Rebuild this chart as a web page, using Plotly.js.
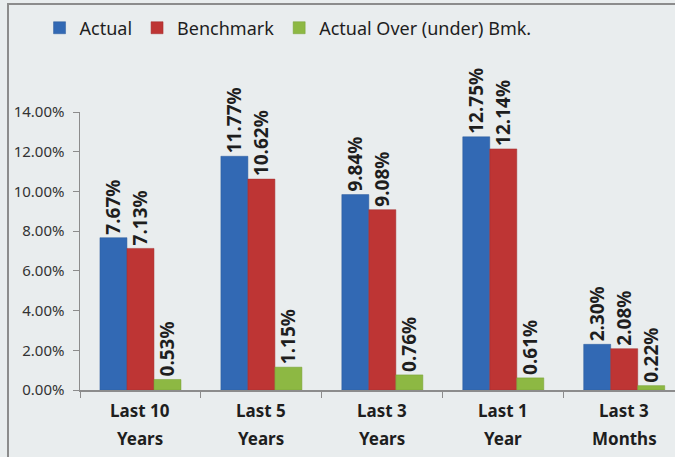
<!DOCTYPE html>
<html>
<head>
<meta charset="utf-8">
<script src="https://cdn.plot.ly/plotly-3.0.1.min.js"></script>
<style>
html,body{margin:0;padding:0;background:#E9EDEE;overflow:hidden;}
#wrap{position:relative;width:675px;height:457px;}
#chart{position:absolute;left:0;top:0;width:675px;height:457px;}
#frame{position:absolute;left:7px;top:3px;width:680px;height:470px;border-top:2px solid #8C8C8C;border-left:2px solid #8C8C8C;pointer-events:none;}
</style>
</head>
<body>
<div id="wrap"><div id="chart"></div><div id="frame"></div></div>
<script>
var categories = ["Last 10 Years", "Last 5 Years", "Last 3 Years", "Last 1 Year", "Last 3 Months"];
var catLine1 = ["Last 10", "Last 5", "Last 3", "Last 1", "Last 3"];
var catLine2 = ["Years", "Years", "Years", "Year", "Months"];
var actual = [7.67, 11.77, 9.84, 12.75, 2.30];
var benchmark = [7.13, 10.62, 9.08, 12.14, 2.08];
var overUnder = [0.53, 1.15, 0.76, 0.61, 0.22];
var seriesNames = ["Actual", "Benchmark", "Actual Over (under) Bmk."];
var yTicks = [0, 2, 4, 6, 8, 10, 12, 14];

var colors = ["#3269B4", "#BE3534", "#8DB843"];
var lineColors = ["#2C5C9C", "#A22D2C", "#76A035"];
var series = [actual, benchmark, overUnder];

var traces = series.map(function(vals, i){
  return {
    type: 'bar',
    name: seriesNames[i],
    x: categories,
    y: vals,
    marker: {color: colors[i], line: {color: lineColors[i], width: 0.5}},
    text: vals.map(function(v){return v.toFixed(2) + '%';}),
    textposition: 'outside',
    textangle: -90,
    constraintext: 'none',
    cliponaxis: false,
    textfont: {family: 'Noto Sans, sans-serif', size: 19, color: '#1E1E1E', weight: 'bold'},
    hoverinfo: 'skip'
  };
});

var annotations = [];
categories.forEach(function(c, i){
  annotations.push({x: c, xref: 'x', y: -0.075, yref: 'paper', yanchor: 'middle', text: catLine1[i], showarrow: false,
    font: {family: 'Noto Sans, sans-serif', size: 17, color: '#1E1E1E', weight: 'bold'}});
  annotations.push({x: c, xref: 'x', y: -0.176, yref: 'paper', yanchor: 'middle', text: catLine2[i], showarrow: false,
    font: {family: 'Noto Sans, sans-serif', size: 17, color: '#1E1E1E', weight: 'bold'}});
});

var layout = {
  width: 675, height: 457,
  paper_bgcolor: '#E9EDEE', plot_bgcolor: 'rgba(0,0,0,0)',
  margin: {l: 80, r: 0, t: 112, b: 67, autoexpand: false},
  barmode: 'group', bargap: 0.33, bargroupgap: 0,
  showlegend: true,
  legend: {orientation: 'h', x: -0.068, xanchor: 'left', y: 1.302, yanchor: 'middle',
           font: {family: 'Noto Sans, sans-serif', size: 18, color: '#1E1E1E'},
           bgcolor: 'rgba(0,0,0,0)', traceorder: 'normal'},
  xaxis: {range: [-0.5, 4.42], showline: true, linecolor: '#8C8C8C', linewidth: 1.5,
          ticks: 'outside', ticklen: 6, tickcolor: '#8C8C8C', tickson: 'boundaries',
          showticklabels: false,
          showgrid: false, zeroline: false, fixedrange: true},
  yaxis: {range: [0, 14], tickvals: yTicks, ticktext: yTicks.map(function(v){return v.toFixed(2)+'%';}),
          showline: true, linecolor: '#8C8C8C', linewidth: 1.5,
          ticks: 'outside', ticklen: 6, tickcolor: '#8C8C8C', ticklabelstandoff: 5,
          showgrid: false, zeroline: false, fixedrange: true,
          tickfont: {family: 'Noto Sans, sans-serif', size: 15, color: '#333333'}},
  annotations: annotations,
  font: {family: 'Noto Sans, sans-serif'}
};

Plotly.newPlot('chart', traces, layout, {staticPlot: true, displayModeBar: false});
</script>
</body>
</html>
